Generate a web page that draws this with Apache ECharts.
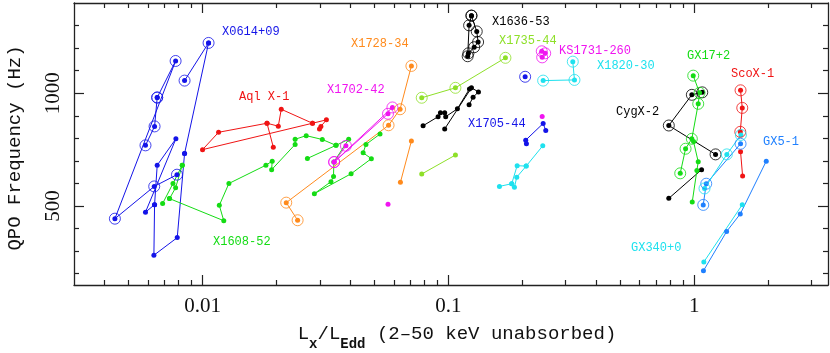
<!DOCTYPE html>
<html><head><meta charset="utf-8">
<script src="https://cdn.jsdelivr.net/npm/echarts@6/dist/echarts.min.js"></script>
<style>html,body{margin:0;padding:0;background:#fff}#c{width:830px;height:353px}</style>
</head><body><div id="c"></div>
<script>
// ---------- tick values ----------
const xMajorTicks = [0.01, 0.1, 1];
const xMinorTicks = [0.004,0.005,0.006,0.007,0.008,0.009,0.02,0.03,0.04,0.05,0.06,0.07,0.08,0.09,0.2,0.3,0.4,0.5,0.6,0.7,0.8,0.9,2,3];
const yMajorTicks = [500, 1000];
const yMinorTicks = [200,300,400,600,700,800,900,1100,1200,1300];

// ---------- data: [Lx/LEdd, QPO frequency Hz] ----------
// 4U 0614+09
const x0614Up1 = [[0.00845,1056],[0.01058,1223]];
const x0614Up2 = [[0.00654,981],[0.00777,1143],[0.00440,444],[0.00636,587],[0.00787,639]];
const x0614Up3 = [[0.00654,981],[0.00638,853],[0.00586,769]];
const x0614Low = [[0.00845,733],[0.00789,360],[0.00634,282],[0.00638,506],[0.00654,681],[0.00779,798],[0.00586,473],[0.00638,506]];
const x0614Link = [[0.01058,1223],[0.00845,733]];
// 4U 1608-52
const x1608A = [[0.00688,511],[0.00758,600],[0.00827,681]];
const x1608B = [[0.00734,533],[0.00777,581],[0.00827,681]];
const x1608C = [[0.00734,533],[0.0122,435],[0.0117,503],[0.0128,600],[0.0181,681],[0.0192,699],[0.0191,661],[0.0238,773],[0.0238,796],[0.0264,812],[0.0307,795],[0.0349,769],[0.0267,711]];
const x1608D = [[0.0349,769],[0.0393,796],[0.0342,695],[0.0341,631],[0.0333,608],[0.0285,555],[0.0402,643],[0.0486,710],[0.0450,736],[0.0462,773],[0.0527,819]];
// Aql X-1
const aqlA = [[0.0194,761],[0.01829,867],[0.01162,827],[0.0100,750],[0.0280,867],[0.0319,882],[0.0303,853],[0.0299,842]];
const aqlB = [[0.01829,867],[0.02033,854],[0.0209,929],[0.0280,867]];
// 4U 1728-34
const x1728Up = [[0.02436,437],[0.0219,515],[0.0571,858],[0.0636,929],[0.0707,1121]];
const x1728Low = [[0.0638,605],[0.0707,788]];
// 4U 1702-42
const x1702UpA = [[0.0592,937],[0.0343,695],[0.0568,909]];
const x1702UpB = [[0.0343,695],[0.0383,767]];
const x1702Low = [[0.0568,508]];
// 4U 1636-53
const x1636UpA = [[0.1241,1344],[0.1214,1301],[0.1198,1164]];
const x1636UpB = [[0.1241,1344],[0.1304,1274],[0.1321,1227],[0.1273,1204],[0.1206,1177]];
const x1636LowA = [[0.0789,856],[0.0908,896],[0.0928,913],[0.0966,913],[0.0975,896],[0.1088,931],[0.1218,1019]];
const x1636LowB = [[0.0966,842],[0.1241,1024],[0.1325,1006],[0.1260,982],[0.1214,949]];
// 4U 1735-44
const x1735Up = [[0.0779,980],[0.1068,1024],[0.1706,1157]];
const x1735Low = [[0.0779,642],[0.1068,726]];
// KS 1731-260
const ks1731Up = [[0.2398,1186],[0.2476,1177],[0.2407,1159]];
const ks1731Low = [[0.2407,897]];
// 4U 1820-30
const x1820Up = [[0.2429,1056],[0.3257,1059],[0.3206,1140]];
const x1820LowA = [[0.1613,587],[0.1810,599],[0.1856,583],[0.1897,628],[0.2072,677],[0.2420,767]];
const x1820LowB = [[0.1810,599],[0.1904,679],[0.2072,677]];
// 4U 1705-44
const x1705Up = [[0.2052,1073]];
const x1705Low = [[0.2077,776],[0.2063,792],[0.2429,866],[0.2489,835]];
// Cyg X-2
const cygUp = [[1.078,1004],[0.9777,993],[0.788,857],[1.221,729]];
const cygLow = [[0.788,534],[1.071,661]];
// GX 17+2
const gx17Up = [[0.9906,1078],[1.051,1002],[1.038,953],[0.9777,798],[0.922,754],[0.877,645]];
const gx17Low = [[0.9934,786],[1.038,696],[1.025,658],[0.9815,518]];
// Sco X-1
const scoUp = [[1.543,1013],[1.568,935],[1.539,829]];
const scoLow = [[1.543,741],[1.573,633]];
// GX 5-1
const gx5Up = [[1.543,776],[1.119,599],[1.088,505]];
const gx5Low = [[1.963,699],[1.539,465],[1.354,387],[1.090,213]];
// GX 340+0
const gx340Up = [[1.548,815],[1.357,729],[1.101,578]];
const gx340Low = [[1.568,506],[1.094,252]];

// ---------- styling ----------
const C = {blue:'#1414e8', green:'#14dc14', red:'#f01414', orange:'#ff8a1c', magenta:'#f014f0',
  black:'#000000', cyan:'#1ee1ee', ygreen:'#8ee028', gx5:'#1f80ff'};

const tracks = [
  [x0614Up1,C.blue,true],[x0614Up2,C.blue,true],[x0614Up3,C.blue,true],[x0614Low,C.blue,false],[x0614Link,C.blue,false],
  [x1608A,C.green,false],[x1608B,C.green,false],[x1608C,C.green,false],[x1608D,C.green,false],
  [aqlA,C.red,false],[aqlB,C.red,false],
  [x1728Up,C.orange,true],[x1728Low,C.orange,false],
  [x1702UpA,C.magenta,true],[x1702UpB,C.magenta,true],[x1702Low,C.magenta,false],
  [x1636UpA,C.black,true],[x1636UpB,C.black,true],[x1636LowA,C.black,false],[x1636LowB,C.black,false],
  [x1735Up,C.ygreen,true],[x1735Low,C.ygreen,false],
  [ks1731Up,C.magenta,true,true],[ks1731Low,C.magenta,false],
  [x1820Up,C.cyan,true],[x1820LowA,C.cyan,false],[x1820LowB,C.cyan,false],
  [x1705Up,C.blue,true],[x1705Low,C.blue,false],
  [cygUp,C.black,true],[cygLow,C.black,false],
  [gx17Up,C.green,true],[gx17Low,C.green,false],
  [scoUp,C.red,true],[scoLow,C.red,false],
  [gx5Up,C.gx5,true],[gx5Low,C.gx5,false],
  [gx340Up,C.cyan,true],[gx340Low,C.cyan,false]
];

const series = [];
tracks.forEach(([d,col,ring,noLine]) => {
  series.push({type:'line', data:d, xAxisIndex:0, yAxisIndex:0, symbol:'circle', symbolSize:5,
    showAllSymbol:true, lineStyle:{width: noLine?0:1, color:col}, itemStyle:{color:col},
    animation:false, silent:true, z:3});
  if (ring) series.push({type:'scatter', data:d, xAxisIndex:0, yAxisIndex:0, symbol:'circle', symbolSize:11,
    itemStyle:{color:'rgba(0,0,0,0)', borderColor:col, borderWidth:1}, animation:false, silent:true, z:4});
});

const labels = [
  ['X0614+09',C.blue,222,32],['Aql X-1',C.red,239,97],['X1728-34',C.orange,351,44],
  ['X1702-42',C.magenta,327,90],['X1608-52',C.green,213,242],['X1636-53',C.black,492,22],
  ['X1735-44',C.ygreen,499,40.5],['KS1731-260',C.magenta,559,51],['X1820-30',C.cyan,597,66],
  ['X1705-44',C.blue,468,124],['GX17+2',C.green,687,55.5],['ScoX-1',C.red,731,73.5],
  ['CygX-2',C.black,616,112],['GX5-1',C.gx5,763,141.5],['GX340+0',C.cyan,631,248]
];

const AX = '#222';
const tickFont = {fontFamily:'Liberation Serif', fontSize:21, color:'#111'};
function xAx(pos, vals, len, showLab, showLine){
  return {type:'log', logBase:10, min:0.003, max:3.5, position:pos,
    axisLine:{show:showLine, lineStyle:{color:AX, width:1.3}},
    axisTick:{show:true, inside:true, length:len, customValues:vals, lineStyle:{color:AX, width:1.2}},
    axisLabel:Object.assign({show:showLab, customValues:vals, margin:11,
      formatter:v=>String(+(+v).toPrecision(3))}, tickFont),
    splitLine:{show:false}, minorTick:{show:false}, minorSplitLine:{show:false}};
}
function yAx(pos, vals, len, showLab, showLine){
  return {type:'value', min:150, max:1400, position:pos,
    axisLine:{show:showLine, lineStyle:{color:AX, width:1.3}},
    axisTick:{show:true, inside:true, length:len, customValues:vals, lineStyle:{color:AX, width:1.2}},
    axisLabel:Object.assign({show:showLab, customValues:vals, rotate:90, margin:10,
      formatter:v=>String(Math.round(+v))}, tickFont),
    splitLine:{show:false}};
}

const chart = echarts.init(document.getElementById('c'), null, {renderer:'canvas'});
chart.setOption({
  backgroundColor:'#fff',
  animation:false,
  grid:{left:74, right:2, top:3, bottom:68, containLabel:false},
  xAxis:[xAx('bottom',xMajorTicks,10,true,true), xAx('bottom',xMinorTicks,5,false,false),
         xAx('top',xMajorTicks,10,false,true), xAx('top',xMinorTicks,5,false,false)],
  yAxis:[yAx('left',yMajorTicks,10,true,true), yAx('left',yMinorTicks,5,false,false),
         yAx('right',yMajorTicks,10,false,true), yAx('right',yMinorTicks,5,false,false)],
  series: series,
  graphic: labels.map(([t,col,x,y]) => ({type:'text', x:x, y:y, silent:true, z:10,
      style:{text:t, fill:col, font:'12px "Liberation Mono"', align:'left', verticalAlign:'middle'}}))
    .concat([
      {type:'text', x:15, y:148, rotation:Math.PI/2, silent:true,
       style:{text:'QPO Frequency (Hz)', fill:'#111', font:'19px "Liberation Mono"', align:'center', verticalAlign:'middle'}},
      {type:'text', x:457, y:334, silent:true,
       style:{text:'{a|L}{s|x}{a|/L}{s|Edd}{a| (2–50 keV unabsorbed)}', fill:'#111', align:'center', verticalAlign:'middle',
         rich:{a:{font:'19px "Liberation Mono"', fill:'#111', lineHeight:20, verticalAlign:'middle'},
               s:{font:'bold 14px "Liberation Mono"', fill:'#111', lineHeight:34, verticalAlign:'bottom'}}}}
    ])
});
</script></body></html>
